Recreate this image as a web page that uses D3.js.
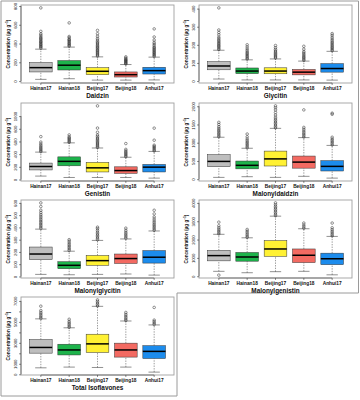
<!DOCTYPE html>
<html>
<head>
<meta charset="utf-8">
<script src="https://cdn.jsdelivr.net/npm/d3@7"></script>
<style>
  body { margin: 0; background: #fff; }
  text { font-family: "Liberation Sans", Arial, sans-serif; }
</style>
</head>
<body>
<svg width="360" height="400"></svg>
<script>
// Locations and their box colours
const groups = ["Hainan17", "Hainan18", "Beijing17", "Beijing18", "Anhui17"];
const fills = ["#bebebe", "#1db34b", "#fff133", "#f36a62", "#1c8ced"];
const compounds = ["Daidzin", "Glycitin", "Genistin", "Malonyldaidzin",
                   "Malonylglycitin", "Malonylgenistin", "Total Isoflavones"];

// box stats per location: [lower whisker, q1, median, q3, upper whisker]
const daidzinStats = [[18, 97, 143, 197, 340], [25, 118, 169, 218, 362], [10, 68, 104, 143, 258], [10, 43, 68, 97, 176], [12, 75, 111, 147, 255]];
const glycitinStats = [[11, 62, 83, 107, 170], [6, 41, 55, 72, 117], [6, 40, 55, 73, 122], [6, 34, 49, 64, 110], [5, 49, 69, 96, 164]];
const genistinStats = [[54, 151, 205, 259, 432], [32, 216, 286, 357, 578], [32, 119, 184, 270, 497], [32, 97, 141, 200, 351], [22, 119, 195, 238, 443]];
const malDaidzinStats = [[49, 341, 487, 672, 1150], [68, 283, 380, 497, 848], [49, 361, 556, 770, 1394], [78, 302, 468, 634, 1140], [29, 224, 351, 507, 926]];
const malGlycitinStats = [[17, 137, 183, 240, 386], [14, 63, 91, 120, 206], [17, 91, 129, 171, 294], [20, 106, 146, 183, 306], [11, 109, 157, 211, 371]];
const malGenistinStats = [[267, 838, 1124, 1410, 2286], [190, 819, 1048, 1295, 2095], [248, 1086, 1486, 1943, 3276], [267, 743, 1143, 1486, 2590], [76, 629, 952, 1257, 2171]];
const totalStats = [[614, 2014, 2560, 3311, 5290], [683, 1843, 2321, 2867, 4437], [648, 2082, 2901, 3823, 6485], [683, 1638, 2321, 2969, 5085], [205, 1502, 2184, 2730, 4710]];

// outliers per location
const daidzinOut = [
  [350, 362, 371, 383, 392, 404, 415, 423, 436, 448, 459, 472, 488, 503, 530, 780],
  [372, 381, 393, 402, 414, 426, 437, 445, 462, 475, 620],
  [266, 278, 289, 301, 312, 324, 333, 347, 358, 369, 381, 395, 408, 420, 437, 455, 478, 505, 540],
  [182, 191, 199, 208, 216, 224, 233, 245, 258],
  [262, 274, 283, 296, 305, 317, 328, 339, 351, 362, 378, 395, 412, 437, 470, 556]
];
const glycitinOut = [
  [174, 180, 187, 193, 199, 206, 212, 219, 226, 234, 242, 255, 268, 282, 404],
  [121, 127, 134, 140, 147, 153, 160, 168, 177, 188, 200],
  [127, 133, 139, 146, 152, 159, 166, 174, 184, 196],
  [114, 120, 127, 133, 140, 147, 155, 163, 176, 192],
  [168, 174, 181, 187, 194, 201, 208, 215, 223, 232, 242, 253, 262]
];
const genistinOut = [
  [440, 458, 476, 495, 515, 536, 560, 590, 676],
  [586, 602, 620, 638, 655, 672, 703],
  [505, 523, 541, 560, 578, 597, 616, 636, 655, 678, 702, 745, 811, 1161],
  [360, 378, 396, 414, 432, 452, 475, 567],
  [450, 468, 487, 505, 522, 541, 620, 810]
];
const malDaidzinOut = [
  [1165, 1200, 1240, 1278, 1316, 1355, 1395, 1440, 1500, 1559],
  [862, 900, 940, 978, 1015, 1055, 1100, 1160, 1238],
  [1408, 1445, 1485, 1525, 1565, 1605, 1650, 1700, 1760, 1830, 1900, 1960, 2010],
  [1155, 1195, 1235, 1275, 1320, 1370, 1420, 1900],
  [940, 980, 1020, 1060, 1100, 1150, 1780, 1810]
];
const malGlycitinOut = [
  [392, 404, 416, 428, 440, 452, 465, 478, 492, 506, 522, 540, 570, 600],
  [212, 224, 236, 248, 260, 273, 288, 300],
  [300, 312, 324, 336, 348, 361, 375, 390, 402],
  [312, 324, 336, 348, 361, 376, 394],
  [377, 389, 401, 413, 425, 438, 452, 468, 485, 510, 540]
];
const malGenistinOut = [
  [60, 2310, 2390, 2470, 2555, 2640, 2750, 2950],
  [2120, 2200, 2285, 2370, 2460, 2550],
  [3300, 3385, 3470, 3555, 3640, 3725, 3810, 3900, 4000],
  [2620, 2700, 2790, 2900],
  [2200, 2280, 2365, 2450, 2540, 2640, 2900]
];
const totalOut = [
  [5330, 5470, 5610, 5760, 5910, 6080, 6500],
  [4480, 4620, 4760, 4900, 5050, 5250],
  [6520, 6660, 6800, 6950, 7100],
  [5130, 5270, 5410, 5560, 5720, 5900],
  [4750, 4890, 5030, 5170, 6380]
];

// y ticks and which of them carry a label
const daidzinTicks = [0, 200, 400, 600, 800];
const glycitinTicks = [0, 100, 200, 300, 400];
const genistinTicks = [0, 200, 400, 600, 800, 1000];
const malDaidzinTicks = [0, 500, 1000, 1500, 2000];
const malGlycitinTicks = [0, 100, 200, 300, 400, 500, 600];
const malGenistinTicks = [0, 1000, 2000, 3000, 4000];
const totalTicks = [0, 1000, 2000, 3000, 4000, 5000, 6000, 7000];
const totalTickLabels = [0, 1000, 3000, 5000, 7000];

const statsList = [daidzinStats, glycitinStats, genistinStats, malDaidzinStats, malGlycitinStats, malGenistinStats, totalStats];
const outList = [daidzinOut, glycitinOut, genistinOut, malDaidzinOut, malGlycitinOut, malGenistinOut, totalOut];
const tickList = [daidzinTicks, glycitinTicks, genistinTicks, malDaidzinTicks, malGlycitinTicks, malGenistinTicks, totalTicks];
const labelList = [daidzinTicks, glycitinTicks, genistinTicks, malDaidzinTicks, malGlycitinTicks, malGenistinTicks, totalTickLabels];

const svg = d3.select("svg");

// outer border around the composed figure (bottom-right cell is empty)
svg.append("path")
  .attr("d", "M1,1H358.5V293H177V396H1Z")
  .attr("fill", "none")
  .attr("stroke", "#9a9a9a")
  .attr("stroke-width", 1);

const colX = [[21, 174], [199, 352]];
const rowTop = [5, 103, 200, 297];
const frameH = 78;

compounds.forEach((name, i) => {
  const [x0, x1] = colX[i % 2];
  const top = rowTop[Math.floor(i / 2)];
  const bottom = top + frameH;
  const stats = statsList[i];
  const outs = outList[i];

  // R style range: data extent padded by 4%
  const all = stats.flat().concat(outs.flat());
  const [lo, hi] = d3.extent(all);
  const pad = (hi - lo) * 0.04;
  const y = d3.scaleLinear().domain([lo - pad, hi + pad]).range([bottom, top]);
  const x = d3.scaleLinear().domain([0.3, 5.7]).range([x0, x1]);
  const half = (x(1.4) - x(1)), staple = half * 0.5;

  const g = svg.append("g");

  // plot frame
  g.append("rect")
    .attr("x", x0).attr("y", top)
    .attr("width", x1 - x0).attr("height", frameH)
    .attr("fill", "none").attr("stroke", "#a0a0a0").attr("stroke-width", 0.9);

  // y axis
  const ticks = tickList[i];
  const yAxis = g.append("g")
    .attr("transform", `translate(${x0},0)`)
    .call(d3.axisLeft(y).tickValues(ticks).tickSize(2)
      .tickFormat(d => labelList[i].includes(d) ? d : ""));
  yAxis.select(".domain").remove();
  yAxis.selectAll("line").attr("stroke", "#222").attr("stroke-width", 0.5);
  yAxis.selectAll("text")
    .attr("transform", "rotate(-90)")
    .attr("x", 0).attr("y", -3.6).attr("dy", null)
    .attr("text-anchor", "middle")
    .attr("font-size", 4.2).attr("fill", "#111");
  yAxis.append("line")
    .attr("y1", y(ticks[0])).attr("y2", y(ticks[ticks.length - 1]))
    .attr("stroke", "#222").attr("stroke-width", 0.5);

  // y label
  const yl = g.append("text")
    .attr("transform", `translate(${x0 - 11.5},${(top + bottom) / 2}) rotate(-90)`)
    .attr("text-anchor", "middle")
    .attr("font-size", 4.6).attr("font-weight", "bold").attr("fill", "#111");
  yl.append("tspan").text("Concentration (μg g");
  yl.append("tspan").attr("font-size", 3.2).attr("dy", -1.6).text("−1");
  yl.append("tspan").attr("dy", 1.6).text(")");

  // x axis
  g.append("line")
    .attr("x1", x(1)).attr("x2", x(5))
    .attr("y1", bottom).attr("y2", bottom)
    .attr("stroke", "#222").attr("stroke-width", 0.5);
  g.selectAll(".xt").data(groups).join("line")
    .attr("x1", (d, k) => x(k + 1)).attr("x2", (d, k) => x(k + 1))
    .attr("y1", bottom).attr("y2", bottom + 2)
    .attr("stroke", "#222").attr("stroke-width", 0.5);
  g.selectAll(".xl").data(groups).join("text")
    .attr("x", (d, k) => x(k + 1)).attr("y", bottom + 7.2)
    .attr("text-anchor", "middle")
    .attr("font-size", 4.8).attr("font-weight", "bold").attr("fill", "#111")
    .text(d => d);

  // panel title under the axis
  g.append("text")
    .attr("x", (x0 + x1) / 2).attr("y", bottom + 14.5)
    .attr("text-anchor", "middle")
    .attr("font-size", 6.4).attr("font-weight", "bold").attr("fill", "#111")
    .text(name);

  // boxes
  stats.forEach((s, k) => {
    const cx = x(k + 1);
    const [wl, q1, med, q3, wu] = s;
    const bg = g.append("g");
    // dashed whiskers
    [[wl, q1], [q3, wu]].forEach(([a, b]) => {
      bg.append("line")
        .attr("x1", cx).attr("x2", cx).attr("y1", y(a)).attr("y2", y(b))
        .attr("stroke", "#222").attr("stroke-width", 0.45)
        .attr("stroke-dasharray", "1.4,1.2");
    });
    // staples
    [wl, wu].forEach(v => {
      bg.append("line")
        .attr("x1", cx - staple).attr("x2", cx + staple)
        .attr("y1", y(v)).attr("y2", y(v))
        .attr("stroke", "#222").attr("stroke-width", 0.5);
    });
    bg.append("rect")
      .attr("x", cx - half).attr("y", y(q3))
      .attr("width", half * 2).attr("height", y(q1) - y(q3))
      .attr("fill", fills[k]).attr("stroke", "#333").attr("stroke-width", 0.5);
    bg.append("line")
      .attr("x1", cx - half).attr("x2", cx + half)
      .attr("y1", y(med)).attr("y2", y(med))
      .attr("stroke", "#000").attr("stroke-width", 1.5);
    // outliers
    bg.selectAll("circle").data(outs[k]).join("circle")
      .attr("cx", cx).attr("cy", d => y(d)).attr("r", 1.3)
      .attr("fill", "none").attr("stroke", "#111").attr("stroke-width", 0.45);
  });
});
</script>
</body>
</html>
